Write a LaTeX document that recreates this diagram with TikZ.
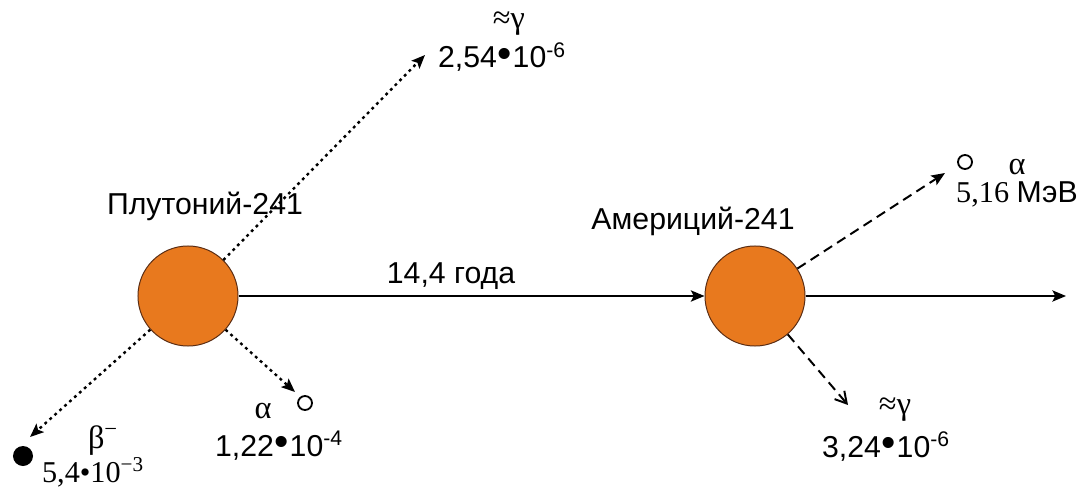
\documentclass[tikz,border=0pt]{standalone}
\usepackage{fontspec}
\setmainfont{Liberation Sans}
\newfontfamily\timesfont{Liberation Serif}
\usepackage{graphicx}
\usepackage{tikz}
\usetikzlibrary{positioning, arrows.meta}
\definecolor{nucfill}{RGB}{232,121,30}
\definecolor{nucline}{RGB}{90,45,20}
\newcommand\bul{\kern0.5pt\raisebox{0.05ex}{\scalebox{1.35}{•}}\kern0.5pt}

\begin{document}
\begin{tikzpicture}[
    x=0.025cm, y=-0.025cm,
    nucleus/.style={circle, draw=nucline, line width=0.7pt, fill=nucfill,
                    minimum size=2.5cm, inner sep=0pt},
    partopen/.style={circle, draw, line width=1.3pt, minimum size=0.35cm, inner sep=0pt},
    partfull/.style={circle, fill, minimum size=0.5cm, inner sep=0pt},
    nuctext/.style={font=\fontsize{21.5}{24}\selectfont, inner sep=0pt, anchor=base},
    val/.style={font=\fontsize{21.5}{24}\selectfont, inner sep=0pt, anchor=base},
    sval/.style={font=\timesfont\fontsize{21.5}{24}\selectfont, inner sep=0pt, anchor=base},
    greek/.style={font=\timesfont\fontsize{23}{25}\selectfont, inner sep=0pt},
    arr/.style={-{Stealth[length=3.4mm, width=2.8mm, inset=0.7mm]}, line width=1.3pt},
    dotarr/.style={arr, line width=1.7pt, dash pattern=on 2pt off 2.7pt},
    dasharr/.style={arr, line width=1.4pt, dash pattern=on 7pt off 4.2pt},
]
    \useasboundingbox (0,0) rectangle (1082,491);

    % ядра
    \node[nucleus] (pu) at (188,296) {};
    \node[nucleus] (am) at (755,296) {};
    \node[nuctext] (pulabel) at (205,215) {Плутоний-241};
    \node[nuctext] (amlabel) at (693,230) {Америций-241};

    % распад Pu-241
    \draw[arr] (pu) -- (am);
    \node[nuctext] (time) at (451,283) {14,4 года};
    \coordinate (puup) at (425,55);
    \coordinate (pudl) at (30,437);
    \coordinate (pudr) at (295,392);
    \draw[dotarr] (pu) -- (puup);
    \draw[dotarr] (pu) -- (pudl);
    \draw[dotarr] (pu) -- (pudr);

    \node[greek] (gam1) at (509,24) {≈γ};
    \node[val] (gam1val) at (502,68) {2,54\bul10\textsuperscript{-6}};
    \node[partfull] (beta) at (23,456) {};
    \node[greek] (betalabel) at (103,441) {β\textsuperscript{−}};
    \node[sval] (betaval) at (93,482) {5,4•10\textsuperscript{−3}};
    \node[partopen] (alpha1) at (305,403) {};
    \node[greek] (alpha1label) at (263,411) {α};
    \node[val] (alpha1val) at (279,456) {1,22\bul10\textsuperscript{-4}};

    % распад Am-241
    \coordinate (amout) at (1066,296);
    \coordinate (amup) at (945,173);
    \coordinate (amdr) at (848,405);
    \draw[arr] (am) -- (amout);
    \draw[dasharr] (am) -- (amup);
    \draw[dasharr, -{Straight Barb[length=2.8mm, width=3.2mm, line width=1.4pt]}] (am) -- (amdr);

    \node[partopen] (alpha2) at (965,162) {};
    \node[greek] (alpha2label) at (1017,167) {α};
    \node[sval] (alpha2val) at (1017,203) {5,16 {\rmfamily МэВ}};
    \node[greek] (gam2) at (895,410) {≈γ};
    \node[val] (gam2val) at (886,457) {3,24\bul10\textsuperscript{-6}};
\end{tikzpicture}
\end{document}
